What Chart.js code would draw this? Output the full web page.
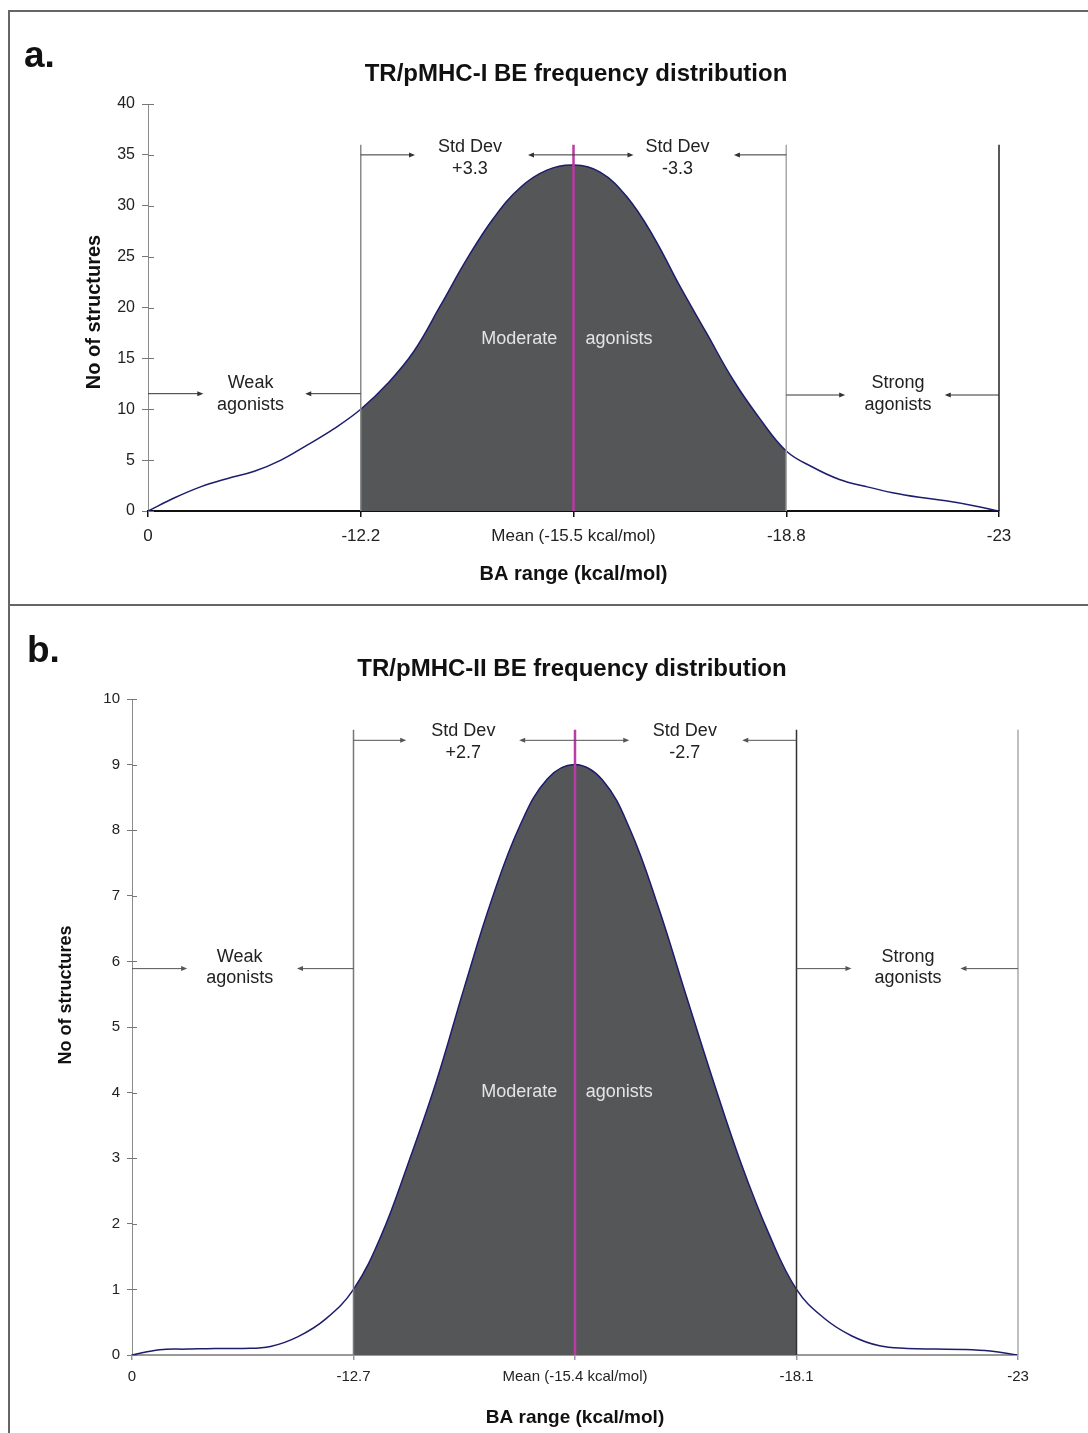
<!DOCTYPE html>
<html>
<head>
<meta charset="utf-8">
<script src="https://cdn.jsdelivr.net/npm/chart.js@4.4.1/dist/chart.umd.min.js"></script>
<style>
  body { margin: 0; background: #fff; width: 1088px; height: 1433px; position: relative; overflow: hidden; }
  .panel { position: absolute; left: 0; width: 1088px; }
  #panel-a { top: 0; height: 605px; }
  #panel-b { top: 605px; height: 828px; }
  .rule { position: absolute; background: #666; }
</style>
</head>
<body>
<div class="rule" style="left:8px;top:10px;width:1080px;height:2px"></div>
<div class="rule" style="left:8px;top:10px;width:2px;height:1423px"></div>
<div class="rule" style="left:8px;top:604px;width:1080px;height:2px"></div>
<div class="panel" id="panel-a"><canvas id="chart-a"></canvas></div>
<div class="panel" id="panel-b"><canvas id="chart-b"></canvas></div>
<script>
// sample positions along the category axis (0 = first tick, 4 = last tick)
const samplePos = [0, 0.125, 0.25, 0.375, 0.5, 0.625, 0.75, 0.875, 1, 1.125, 1.25, 1.375, 1.5, 1.625, 1.75, 1.875, 2,
  2.125, 2.25, 2.375, 2.5, 2.625, 2.75, 2.875, 3, 3.125, 3.25, 3.375, 3.5, 3.625, 3.75, 3.875, 4];
const tickPos = [0, 1, 2, 3, 4];

// panel a: TR/pMHC-I
const xLabelsA = ['0', '-12.2', 'Mean (-15.5 kcal/mol)', '-18.8', '-23'];
const yTicksA = [0, 5, 10, 15, 20, 25, 30, 35, 40];
const countsA = [0, 1.3, 2.4, 3.2, 3.9, 5.0, 6.5, 8.1, 10.0, 12.5, 15.7, 20.2, 24.8, 28.8, 31.8, 33.5, 34.0,
  33.3, 30.9, 27.0, 22.1, 17.5, 12.9, 9.1, 5.9, 4.3, 3.1, 2.4, 1.8, 1.35, 1.0, 0.55, 0];

// panel b: TR/pMHC-II
const xLabelsB = ['0', '-12.7', 'Mean (-15.4 kcal/mol)', '-18.1', '-23'];
const yTicksB = [0, 1, 2, 3, 4, 5, 6, 7, 8, 9, 10];
const countsB = [0, 0.08, 0.09, 0.1, 0.1, 0.13, 0.28, 0.55, 1.0, 1.82, 2.95, 4.18, 5.6, 6.95, 8.06, 8.78, 9.0,
  8.76, 8.0, 6.84, 5.5, 4.17, 2.92, 1.85, 1.0, 0.56, 0.29, 0.14, 0.1, 0.09, 0.085, 0.06, 0];

Chart.defaults.font.family = 'Arial, "Liberation Sans", sans-serif';
Chart.defaults.color = '#222';

// fill only between the two std-dev ticks (hard-stop gradient)
function shadeBetween(from, to, color) {
  return (c) => {
    const chart = c.chart;
    const area = chart.chartArea;
    if (!area) return 'rgba(0,0,0,0)';
    const xs = chart.scales.x;
    const w = area.right - area.left;
    const f1 = (xs.getPixelForValue(from) - area.left) / w;
    const f2 = (xs.getPixelForValue(to) - area.left) / w;
    const clear = 'rgba(85,86,88,0)';
    const g = chart.ctx.createLinearGradient(area.left, 0, area.right, 0);
    g.addColorStop(0, clear);
    g.addColorStop(f1, clear);
    g.addColorStop(f1, color);
    g.addColorStop(f2, color);
    g.addColorStop(f2, clear);
    g.addColorStop(1, clear);
    return g;
  };
}

function drawArrow(ctx, x1, x2, y, color) {
  const dir = x2 > x1 ? 1 : -1;
  ctx.strokeStyle = color;
  ctx.fillStyle = color;
  ctx.lineWidth = 1;
  ctx.beginPath();
  ctx.moveTo(x1, y);
  ctx.lineTo(x2 - dir * 5, y);
  ctx.stroke();
  ctx.beginPath();
  ctx.moveTo(x2, y);
  ctx.lineTo(x2 - dir * 6, y - 2.5);
  ctx.lineTo(x2 - dir * 6, y + 2.5);
  ctx.closePath();
  ctx.fill();
}

function overlay(spec) {
  return {
    id: 'overlay',
    afterDatasetsDraw(chart) {
      const { ctx, scales: { x, y } } = chart;
      const px = v => x.getPixelForValue(v);
      const py = v => y.getPixelForValue(v);
      ctx.save();

      // region boundaries
      spec.vlines.forEach(l => {
        ctx.beginPath();
        ctx.strokeStyle = l.color;
        ctx.lineWidth = l.width;
        ctx.moveTo(px(l.at), py(spec.lineTop));
        ctx.lineTo(px(l.at), py(0));
        ctx.stroke();
      });

      // mean line
      ctx.beginPath();
      ctx.strokeStyle = '#bb3aa6';
      ctx.lineWidth = 2.5;
      ctx.moveTo(px(spec.mean), py(spec.lineTop));
      ctx.lineTo(px(spec.mean), py(0));
      ctx.stroke();

      spec.arrows.forEach(a => drawArrow(ctx, px(a.from), px(a.to), py(a.y), spec.arrowColor));

      // inner half of the y tick marks
      ctx.strokeStyle = spec.tickColor;
      ctx.lineWidth = 1;
      y.ticks.forEach(t => {
        const yy = Math.round(py(t.value)) + 0.5;
        ctx.beginPath();
        ctx.moveTo(px(0), yy);
        ctx.lineTo(px(0) + spec.tickIn, yy);
        ctx.stroke();
      });

      ctx.textAlign = 'center';
      ctx.textBaseline = 'middle';
      ctx.font = '18px Arial, "Liberation Sans", sans-serif';
      ctx.fillStyle = '#222';
      spec.texts.forEach(([s, tx, ty]) => ctx.fillText(s, px(tx), py(ty)));
      ctx.fillStyle = '#e4e4e4';
      spec.inner.forEach(([s, tx, ty]) => ctx.fillText(s, px(tx), py(ty)));

      // panel letter, title, y axis title
      ctx.fillStyle = '#111';
      ctx.textAlign = 'left';
      ctx.textBaseline = 'alphabetic';
      ctx.font = 'bold 37px Arial, "Liberation Sans", sans-serif';
      ctx.fillText(spec.letter, spec.letterPos[0], spec.letterPos[1]);
      ctx.textAlign = 'center';
      ctx.textBaseline = 'middle';
      ctx.font = 'bold 24px Arial, "Liberation Sans", sans-serif';
      ctx.fillText(spec.title, spec.titlePos[0], spec.titlePos[1]);
      ctx.save();
      ctx.translate(spec.yTitlePos[0], spec.yTitlePos[1]);
      ctx.rotate(-Math.PI / 2);
      ctx.font = spec.yTitleFont;
      ctx.fillText('No of structures', 0, 0);
      ctx.restore();

      ctx.restore();
    }
  };
}

function makeChart(id, o) {
  return new Chart(document.getElementById(id), {
    type: 'line',
    data: {
      datasets: [{
        data: samplePos.map((p, i) => ({ x: p, y: o.counts[i] })),
        borderColor: '#1d1d6e',
        borderWidth: 1.5,
        pointRadius: 0,
        tension: 0.4,
        fill: 'origin',
        backgroundColor: shadeBetween(1, 3, '#555658')
      }]
    },
    options: {
      responsive: true,
      maintainAspectRatio: false,
      animation: false,
      events: [],
      layout: { padding: o.padding },
      plugins: { legend: { display: false }, tooltip: { enabled: false }, title: { display: false } },
      scales: {
        x: {
          type: 'linear',
          min: 0,
          max: 4,
          afterBuildTicks: s => { s.ticks = tickPos.map(v => ({ value: v })); },
          afterFit: s => { s.height = o.xHeight; },
          ticks: {
            autoSkip: false,
            maxRotation: 0,
            padding: o.xTickPad,
            font: { size: o.xTickSize },
            color: '#222',
            callback: (v, i) => o.xLabels[i]
          },
          grid: { drawOnChartArea: false, tickLength: o.tickOut, color: o.xAxisColor, lineWidth: 1.5 },
          border: { display: true, color: o.xAxisColor, width: 2 },
          title: {
            display: true,
            text: 'BA range (kcal/mol)',
            color: '#111',
            font: { size: o.xTitleSize, weight: 'bold' },
            padding: { top: 0, bottom: o.xTitlePad }
          }
        },
        y: {
          min: 0,
          max: o.yMax,
          afterBuildTicks: s => { s.ticks = o.yTicks.map(v => ({ value: v })); },
          afterFit: s => { s.width = o.yWidth; },
          ticks: { padding: o.yTickPad, font: { size: o.yTickSize }, color: '#222' },
          grid: { drawOnChartArea: false, tickLength: o.tickOut, color: '#777' },
          border: { display: true, color: '#8a8a8a', width: 1 }
        }
      }
    },
    plugins: [overlay(o.spec)]
  });
}

makeChart('chart-a', {
  counts: countsA, xLabels: xLabelsA, yTicks: yTicksA, yMax: 40,
  padding: { top: 104, right: 89, left: 0, bottom: 0 },
  xHeight: 94, yWidth: 148, tickOut: 6,
  xTickSize: 17, xTickPad: 9, yTickSize: 16, yTickPad: 7,
  xTitleSize: 20, xTitlePad: 19, xAxisColor: '#111',
  spec: {
    letter: 'a.', letterPos: [24, 67],
    title: 'TR/pMHC-I BE frequency distribution', titlePos: [576, 74],
    yTitlePos: [94.5, 312], yTitleFont: 'bold 20px Arial, "Liberation Sans", sans-serif',
    lineTop: 36, mean: 2, tickIn: 6, tickColor: '#777', arrowColor: '#333',
    vlines: [
      { at: 1, color: '#8a8a8a', width: 1.5 },
      { at: 3, color: '#a8a8a8', width: 1.5 },
      { at: 4, color: '#222', width: 1.5 }
    ],
    arrows: [
      { from: 1, to: 1.255, y: 35 }, { from: 2, to: 1.786, y: 35 },
      { from: 2, to: 2.282, y: 35 }, { from: 3, to: 2.754, y: 35 },
      { from: 0, to: 0.26, y: 11.53 }, { from: 1, to: 0.739, y: 11.53 },
      { from: 3, to: 3.277, y: 11.4 }, { from: 4, to: 3.745, y: 11.4 }
    ],
    texts: [
      ['Std Dev', 1.513, 35.77], ['+3.3', 1.513, 33.6],
      ['Std Dev', 2.489, 35.77], ['-3.3', 2.489, 33.6],
      ['Weak', 0.482, 12.58], ['agonists', 0.482, 10.42],
      ['Strong', 3.525, 12.58], ['agonists', 3.525, 10.42]
    ],
    inner: [['Moderate', 1.745, 16.9], ['agonists', 2.214, 16.9]]
  }
});

makeChart('chart-b', {
  counts: countsB, xLabels: xLabelsB, yTicks: yTicksB, yMax: 10,
  padding: { top: 94, right: 70, left: 0, bottom: 0 },
  xHeight: 78, yWidth: 132, tickOut: 5,
  xTickSize: 15, xTickPad: 8, yTickSize: 15, yTickPad: 7,
  xTitleSize: 19, xTitlePad: 4, xAxisColor: '#999',
  spec: {
    letter: 'b.', letterPos: [27, 57],
    title: 'TR/pMHC-II BE frequency distribution', titlePos: [572, 64],
    yTitlePos: [66, 390], yTitleFont: 'bold 18px Arial, "Liberation Sans", sans-serif',
    lineTop: 9.53, mean: 2, tickIn: 5, tickColor: '#777', arrowColor: '#555',
    vlines: [
      { at: 1, color: '#777', width: 1.5 },
      { at: 3, color: '#333', width: 1.5 },
      { at: 4, color: '#aaa', width: 1.5 }
    ],
    arrows: [
      { from: 1, to: 1.238, y: 9.37 }, { from: 2, to: 1.748, y: 9.37 },
      { from: 2, to: 2.245, y: 9.37 }, { from: 3, to: 2.755, y: 9.37 },
      { from: 0, to: 0.249, y: 5.89 }, { from: 1, to: 0.745, y: 5.89 },
      { from: 3, to: 3.248, y: 5.89 }, { from: 4, to: 3.74, y: 5.89 }
    ],
    texts: [
      ['Std Dev', 1.496, 9.51], ['+2.7', 1.496, 9.18],
      ['Std Dev', 2.496, 9.51], ['-2.7', 2.496, 9.18],
      ['Weak', 0.486, 6.07], ['agonists', 0.486, 5.74],
      ['Strong', 3.503, 6.07], ['agonists', 3.503, 5.74]
    ],
    inner: [['Moderate', 1.748, 4.01], ['agonists', 2.2, 4.01]]
  }
});
</script>
</body>
</html>
